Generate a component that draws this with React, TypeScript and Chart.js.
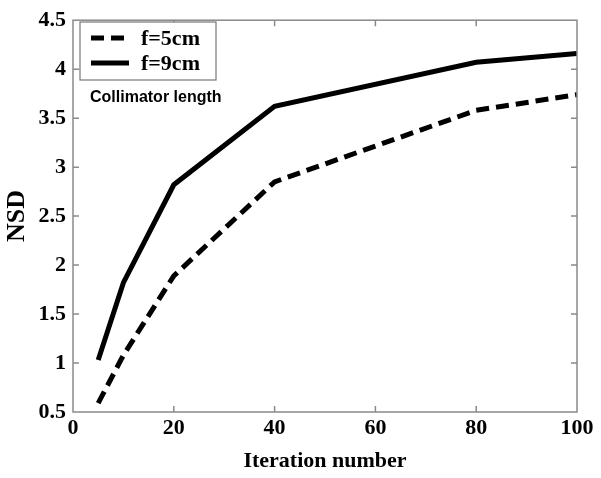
import React, { useEffect, useRef } from "react";
import { Chart, registerables } from "chart.js";

Chart.register(...registerables);

const iterations = [5, 10, 20, 40, 80, 100];
const nsdF5 = [0.59, 1.08, 1.89, 2.85, 3.58, 3.74];
const nsdF9 = [1.03, 1.82, 2.82, 3.62, 4.07, 4.16];
const seriesLabels = ["f=5cm", "f=9cm"];
const noteText = "Collimator length";
const xTitle = "Iteration number";
const yTitle = "NSD";

const SERIF = "'Liberation Serif', 'Times New Roman', serif";
const SANS = "'Liberation Sans', Arial, sans-serif";
const FRAME = "#8a8a8a";
const DASH = [13, 7];

const framePlugin = {
  id: "frameTicks",
  afterDatasetsDraw(chart: any) {
    const { ctx, chartArea } = chart;
    const { left, right, top, bottom } = chartArea;
    const xs = chart.scales.x;
    const ys = chart.scales.y;
    ctx.save();
    ctx.strokeStyle = FRAME;
    ctx.lineWidth = 1.5;
    ctx.strokeRect(left, top, right - left, bottom - top);
    const tl = 6;
    ctx.beginPath();
    xs.ticks.forEach((t: any) => {
      const px = xs.getPixelForValue(t.value);
      if (px <= left + 1 || px >= right - 1) return;
      ctx.moveTo(px, bottom);
      ctx.lineTo(px, bottom - tl);
      ctx.moveTo(px, top);
      ctx.lineTo(px, top + tl);
    });
    ys.ticks.forEach((t: any) => {
      const py = ys.getPixelForValue(t.value);
      if (py <= top + 1 || py >= bottom - 1) return;
      ctx.moveTo(left, py);
      ctx.lineTo(left + tl, py);
      ctx.moveTo(right, py);
      ctx.lineTo(right - tl, py);
    });
    ctx.stroke();

    // legend
    const bx = 80, by = 22, bw = 136, bh = 58;
    ctx.fillStyle = "#fff";
    ctx.fillRect(bx, by, bw, bh);
    ctx.strokeStyle = "#777";
    ctx.lineWidth = 1.2;
    ctx.strokeRect(bx, by, bw, bh);
    const rows = [38, 63];
    chart.data.datasets.forEach((ds: any, i: number) => {
      ctx.beginPath();
      ctx.strokeStyle = ds.borderColor;
      ctx.lineWidth = ds.borderWidth;
      ctx.setLineDash(ds.borderDash || []);
      ctx.moveTo(91, rows[i]);
      ctx.lineTo(i === 0 ? 124 : 129, rows[i]);
      ctx.stroke();
      ctx.setLineDash([]);
      ctx.fillStyle = "#000";
      ctx.font = `bold 22px ${SERIF}`;
      ctx.textAlign = "left";
      ctx.textBaseline = "middle";
      ctx.fillText(ds.label, 141, rows[i] + 1);
    });
    ctx.font = `bold 16px ${SANS}`;
    ctx.fillStyle = "#000";
    ctx.textBaseline = "middle";
    ctx.fillText(noteText, 90, 98);
    ctx.restore();
  },
};

export default function App() {
  const ref = useRef<HTMLCanvasElement>(null);
  useEffect(() => {
    if (!ref.current) return;
    const chart = new Chart(ref.current, {
      type: "line",
      data: {
        datasets: [
          {
            label: seriesLabels[0],
            data: iterations.map((x, i) => ({ x, y: nsdF5[i] })),
            borderColor: "#000",
            borderWidth: 5,
            borderDash: DASH,
            pointRadius: 0,
            tension: 0,
            fill: false,
          },
          {
            label: seriesLabels[1],
            data: iterations.map((x, i) => ({ x, y: nsdF9[i] })),
            borderColor: "#000",
            borderWidth: 5,
            pointRadius: 0,
            tension: 0,
            fill: false,
          },
        ],
      },
      options: {
        animation: false,
        responsive: true,
        maintainAspectRatio: false,
        layout: { padding: { top: 15, right: 24, left: 0, bottom: 0 } },
        plugins: { legend: { display: false }, tooltip: { enabled: false } },
        scales: {
          x: {
            type: "linear",
            min: 0,
            max: 100,
            afterFit: (s: any) => {
              s.height = 66;
            },
            ticks: {
              stepSize: 20,
              padding: 3,
              color: "#000",
              font: { family: SERIF, size: 22, weight: "bold" },
              callback: (v: any) => String(v),
            },
            grid: { display: false, drawTicks: false },
            border: { display: false },
            title: {
              display: true,
              text: xTitle,
              color: "#000",
              font: { family: SERIF, size: 22, weight: "bold" },
              padding: { top: 0, bottom: 3 },
            },
          },
          y: {
            type: "linear",
            min: 0.5,
            max: 4.5,
            afterFit: (s: any) => {
              s.width = 73;
            },
            ticks: {
              stepSize: 0.5,
              padding: 7,
              color: "#000",
              font: { family: SERIF, size: 22, weight: "bold" },
              callback: (v: any) => String(Math.round(Number(v) * 10) / 10),
            },
            grid: { display: false, drawTicks: false },
            border: { display: false },
            title: {
              display: true,
              text: yTitle,
              color: "#000",
              font: { family: SERIF, size: 26, weight: "bold" },
              padding: { top: 2, bottom: 0 },
            },
          },
        },
      },
      plugins: [framePlugin],
    } as any);
    return () => chart.destroy();
  }, []);
  return (
    <div
      style={{
        position: "absolute",
        left: 0,
        top: 0,
        width: 601,
        height: 478,
        background: "#fff",
      }}
    >
      <canvas ref={ref} />
    </div>
  );
}
